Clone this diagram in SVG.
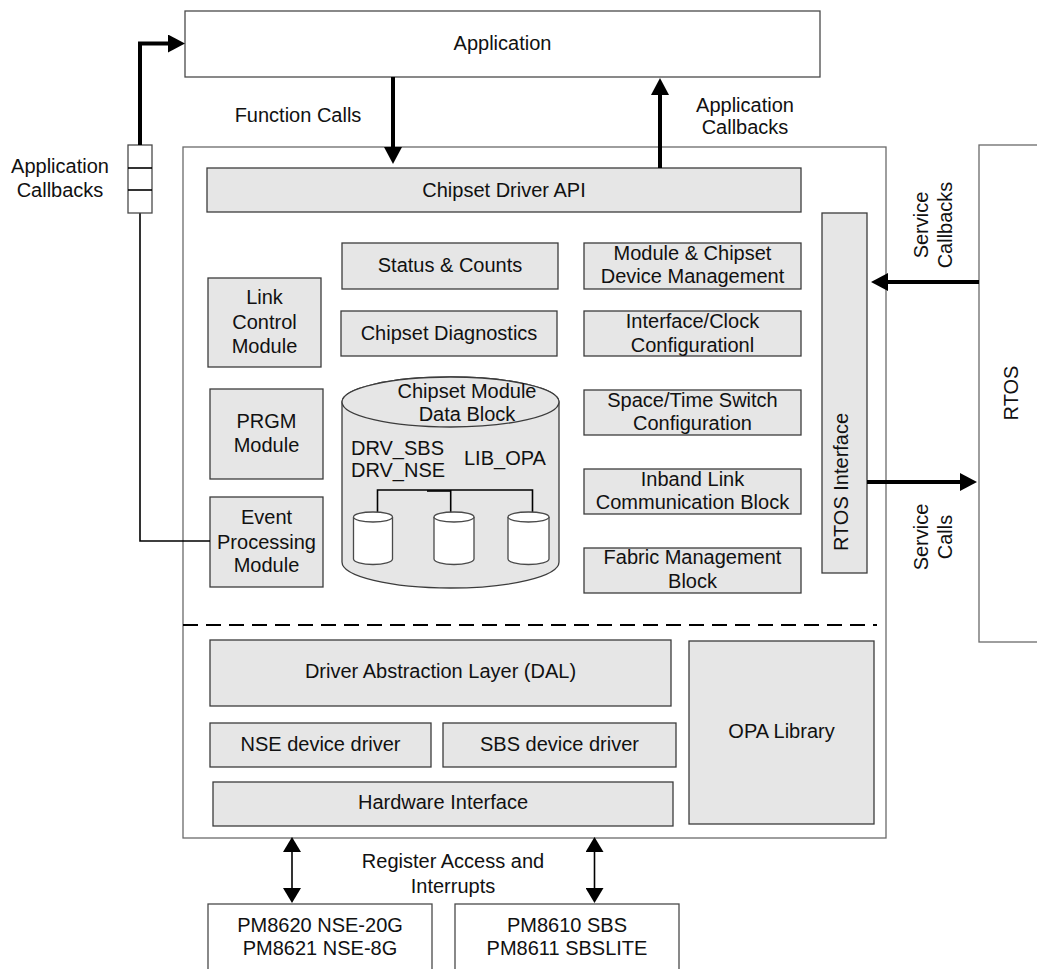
<svg xmlns="http://www.w3.org/2000/svg" width="1037" height="969" viewBox="0 0 1037 969">
  <style>
    text { font-family: "Liberation Sans", Arial, Helvetica, sans-serif; font-size: 20px; fill: #111; }
    .c { text-anchor: middle; }
    .box { fill: #e6e6e6; stroke: #3c3c3c; stroke-width: 1.3; }
    .wbox { fill: #ffffff; stroke: #4a4a4a; stroke-width: 1.3; }
    .frame { fill: none; stroke: #6a6a6a; stroke-width: 1.3; }
    .thick { fill: none; stroke: #000; stroke-width: 4; }
    .thin { fill: none; stroke: #000; stroke-width: 1.6; }
    .dash { fill: none; stroke: #000; stroke-width: 2; stroke-dasharray: 15 8; }
  </style>
  <defs>
    <marker id="headBig" markerUnits="userSpaceOnUse" markerWidth="18" markerHeight="18" refX="0" refY="9" orient="auto-start-reverse">
      <path d="M0,0 L17,9 L0,18 Z" fill="#000"/>
    </marker>
    <marker id="headSmall" markerUnits="userSpaceOnUse" markerWidth="16" markerHeight="18" refX="0" refY="9" orient="auto-start-reverse">
      <path d="M0,0 L15,9 L0,18 Z" fill="#000"/>
    </marker>
  </defs>

  <rect width="1037" height="969" fill="#fff"/>

  <!-- top level application -->
  <g id="application">
    <rect class="wbox" x="185" y="11" width="635" height="66"/>
    <text class="c" x="502.5" y="50">Application</text>
  </g>

  <!-- driver container with layer divider -->
  <g id="driver-frame">
    <rect class="frame" x="183" y="147" width="703" height="691"/>
    <line class="dash" x1="183" y1="625" x2="877" y2="625"/>
  </g>

  <g id="rtos">
    <rect class="frame" x="979" y="145" width="80" height="497"/>
    <text class="c" transform="translate(1018,393) rotate(-90)">RTOS</text>
  </g>

  <g id="chipset-driver-api">
    <rect class="box" x="207" y="168" width="594" height="44"/>
    <text class="c" x="504" y="197">Chipset Driver API</text>
  </g>

  <g id="status-counts">
    <rect class="box" x="342" y="243" width="216" height="46"/>
    <text class="c" x="450" y="272">Status &amp; Counts</text>
  </g>

  <g id="chipset-diagnostics">
    <rect class="box" x="341" y="311" width="216" height="45"/>
    <text class="c" x="449" y="340">Chipset Diagnostics</text>
  </g>

  <g id="link-control-module">
    <rect class="box" x="208" y="278" width="113" height="89"/>
    <text class="c" x="264.5" y="304">Link</text>
    <text class="c" x="264.5" y="329">Control</text>
    <text class="c" x="264.5" y="353">Module</text>
  </g>

  <g id="prgm-module">
    <rect class="box" x="210" y="389" width="113" height="90"/>
    <text class="c" x="266.5" y="428">PRGM</text>
    <text class="c" x="266.5" y="452">Module</text>
  </g>

  <g id="event-processing-module">
    <rect class="box" x="210" y="497" width="113" height="90"/>
    <text class="c" x="266.5" y="524">Event</text>
    <text class="c" x="266.5" y="549">Processing</text>
    <text class="c" x="266.5" y="572">Module</text>
  </g>

  <!-- data block store with its three sub-stores -->
  <g id="chipset-module-data-block">
    <path class="box" d="M342,402 A108.5,25 0 0 1 559,402 L559,562 A108.5,26 0 0 1 342,562 Z"/>
    <ellipse class="box" cx="450.5" cy="402" rx="108.5" ry="25"/>
    <text class="c" x="467" y="398">Chipset Module</text>
    <text class="c" x="467" y="421">Data Block</text>
    <text x="351" y="455">DRV_SBS</text>
    <text x="351" y="477">DRV_NSE</text>
    <text x="464" y="465">LIB_OPA</text>
    <path class="thin" d="M377.5,512 V490 H532.5 V512 M450.7,490 V513"/>
    <line class="thin" x1="427" y1="491" x2="450.7" y2="491"/>
    <g id="store-sbs">
      <path class="wbox" d="M353.5,517 L353.5,559 A19.5,5.5 0 0 0 392.5,559 L392.5,517"/>
      <ellipse class="wbox" cx="373" cy="517" rx="19.5" ry="5"/>
    </g>
    <g id="store-nse">
      <path class="wbox" d="M434,517 L434,559 A20,5.5 0 0 0 474,559 L474,517"/>
      <ellipse class="wbox" cx="454" cy="517" rx="20" ry="5"/>
    </g>
    <g id="store-opa">
      <path class="wbox" d="M508,517 L508,559 A20.5,5.5 0 0 0 549,559 L549,517"/>
      <ellipse class="wbox" cx="528.5" cy="517" rx="20.5" ry="5"/>
    </g>
  </g>

  <g id="device-management">
    <rect class="box" x="584" y="243" width="217" height="46"/>
    <text class="c" x="692.5" y="260">Module &amp; Chipset</text>
    <text class="c" x="692.5" y="283">Device Management</text>
  </g>

  <g id="interface-clock-config">
    <rect class="box" x="584" y="311" width="217" height="45"/>
    <text class="c" x="692.5" y="328">Interface/Clock</text>
    <text class="c" x="692.5" y="352">Configurationl</text>
  </g>

  <g id="space-time-switch-config">
    <rect class="box" x="584" y="390" width="217" height="45"/>
    <text class="c" x="692.5" y="407">Space/Time Switch</text>
    <text class="c" x="692.5" y="430">Configuration</text>
  </g>

  <g id="inband-link-comm">
    <rect class="box" x="584" y="469" width="217" height="45"/>
    <text class="c" x="692.5" y="486">Inband Link</text>
    <text class="c" x="692.5" y="509">Communication Block</text>
  </g>

  <g id="fabric-management">
    <rect class="box" x="584" y="548" width="217" height="45"/>
    <text class="c" x="692.5" y="564">Fabric Management</text>
    <text class="c" x="692.5" y="588">Block</text>
  </g>

  <g id="rtos-interface">
    <rect class="box" x="822" y="213" width="45" height="360"/>
    <text class="c" transform="translate(848,482) rotate(-90)">RTOS Interface</text>
  </g>

  <g id="dal">
    <rect class="box" x="210" y="640" width="461" height="66"/>
    <text class="c" x="440.5" y="678">Driver Abstraction Layer (DAL)</text>
  </g>

  <g id="nse-device-driver">
    <rect class="box" x="210" y="723" width="221" height="44"/>
    <text class="c" x="320.5" y="751">NSE device driver</text>
  </g>

  <g id="sbs-device-driver">
    <rect class="box" x="443" y="723" width="233" height="44"/>
    <text class="c" x="559.5" y="751">SBS device driver</text>
  </g>

  <g id="hardware-interface">
    <rect class="box" x="213" y="782" width="460" height="44"/>
    <text class="c" x="443" y="809">Hardware Interface</text>
  </g>

  <g id="opa-library">
    <rect class="box" x="689" y="641" width="185" height="183"/>
    <text class="c" x="781.5" y="738">OPA Library</text>
  </g>

  <g id="nse-devices">
    <rect class="wbox" x="208" y="904" width="224" height="80"/>
    <text class="c" x="320" y="932">PM8620 NSE-20G</text>
    <text class="c" x="320" y="955">PM8621 NSE-8G</text>
  </g>

  <g id="sbs-devices">
    <rect class="wbox" x="455" y="904" width="224" height="80"/>
    <text class="c" x="567" y="932">PM8610 SBS</text>
    <text class="c" x="567" y="955">PM8611 SBSLITE</text>
  </g>

  <!-- connectors -->
  <g id="connectors">
    <!-- function calls down into the API -->
    <line class="thick" x1="393" y1="77" x2="393" y2="147" marker-end="url(#headBig)"/>
    <!-- callbacks up to the application -->
    <line class="thick" x1="660" y1="168" x2="660" y2="95" marker-end="url(#headBig)"/>
    <!-- event processing callback path through the queue -->
    <polyline class="thin" points="210,541 140,541 140,213"/>
    <g id="callback-queue">
      <rect class="wbox" x="128" y="145" width="24" height="68"/>
      <line class="thin" x1="128" y1="168" x2="152" y2="168"/>
      <line class="thin" x1="128" y1="190" x2="152" y2="190"/>
    </g>
    <polyline class="thick" points="140,145 140,43.5 168,43.5" marker-end="url(#headBig)"/>
    <!-- RTOS service paths -->
    <line class="thick" x1="979" y1="282" x2="888" y2="282" marker-end="url(#headBig)"/>
    <line class="thick" x1="867" y1="482" x2="960" y2="482" marker-end="url(#headBig)"/>
    <!-- register access / interrupts -->
    <line class="thin" x1="292" y1="852" x2="292" y2="888" marker-start="url(#headSmall)" marker-end="url(#headSmall)"/>
    <line class="thin" x1="594.5" y1="852" x2="594.5" y2="888" marker-start="url(#headSmall)" marker-end="url(#headSmall)"/>
  </g>

  <!-- connector labels -->
  <g id="labels">
    <text class="c" x="298" y="121.5">Function Calls</text>
    <text class="c" x="745" y="111.5">Application</text>
    <text class="c" x="745" y="133.5">Callbacks</text>
    <text class="c" x="60" y="173">Application</text>
    <text class="c" x="60" y="196.5">Callbacks</text>
    <text class="c" transform="translate(928,225) rotate(-90)">Service</text>
    <text class="c" transform="translate(952,225) rotate(-90)">Callbacks</text>
    <text class="c" transform="translate(928,537) rotate(-90)">Service</text>
    <text class="c" transform="translate(952,537) rotate(-90)">Calls</text>
    <text class="c" x="453" y="868">Register Access and</text>
    <text class="c" x="453" y="893">Interrupts</text>
  </g>
</svg>
